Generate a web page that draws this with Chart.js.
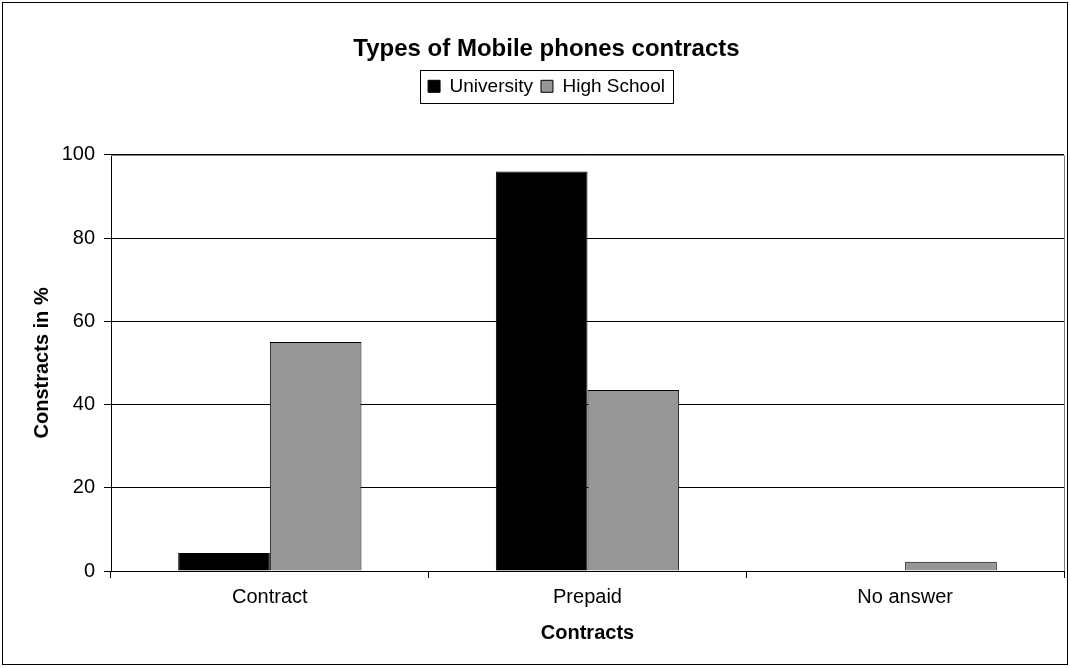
<!DOCTYPE html>
<html>
<head>
<meta charset="utf-8">
<script src="https://cdn.jsdelivr.net/npm/chart.js@4"></script>
<style>
  html, body { margin: 0; padding: 0; background: #fff; }
  #wrap { width: 1070px; height: 668px; }
</style>
</head>
<body>
<div id="wrap"><canvas id="chart" width="1070" height="668"></canvas></div>
<script>
const categories = ['Contract', 'Prepaid', 'No answer'];
const university = [4.3, 96, 0];
const highSchool = [55, 43.5, 2.2];
const yTicks = [0, 20, 40, 60, 80, 100];

const FONT = 'Liberation Sans, Arial, sans-serif';
const LEGEND_EXTRA = 49;

// outer frame, legend box and grey plot border
const framePlugin = {
  id: 'frame',
  beforeLayout(chart) {
    const lg = chart.legend;
    if (lg && !lg._patched) {
      const orig = lg.fit.bind(lg);
      lg.fit = function () { orig(); this.height += LEGEND_EXTRA; };
      lg._patched = true;
    }
  },
  afterDraw(chart) {
    const ctx = chart.ctx;
    ctx.save();
    ctx.strokeStyle = '#000';
    ctx.lineWidth = 1;
    ctx.strokeRect(2.5, 2.5, 1065, 662);

    const boxes = chart.legend.legendHitBoxes;
    const l = Math.min(...boxes.map((b) => b.left)) - 8;
    const r = Math.max(...boxes.map((b) => b.left + b.width)) + 8;
    const t = boxes[0].top - 7;
    const b = boxes[0].top + boxes[0].height + 7;
    ctx.strokeRect(Math.round(l) + 0.5, Math.round(t) + 0.5, Math.round(r - l), Math.round(b - t));

    const a = chart.chartArea;
    ctx.strokeStyle = '#808080';
    ctx.beginPath();
    ctx.moveTo(a.left, Math.round(a.top) + 0.5);
    ctx.lineTo(Math.round(a.right) + 0.5, Math.round(a.top) + 0.5);
    ctx.lineTo(Math.round(a.right) + 0.5, a.bottom);
    ctx.stroke();
    ctx.restore();
  }
};

new Chart(document.getElementById('chart').getContext('2d'), {
  type: 'bar',
  data: {
    labels: categories,
    datasets: [
      {
        label: 'University',
        data: university,
        backgroundColor: '#000000',
        borderColor: '#000000',
        borderWidth: 1,
        borderSkipped: 'bottom',
      },
      {
        label: 'High School',
        data: highSchool,
        backgroundColor: '#969696',
        borderColor: '#000000',
        borderWidth: 1,
        borderSkipped: 'bottom',
      },
    ],
  },
  options: {
    responsive: false,
    animation: false,
    layout: { padding: { left: 29, right: 6, top: 0, bottom: 10 } },
    datasets: { bar: { categoryPercentage: 0.577, barPercentage: 1 } },
    plugins: {
      title: {
        display: true,
        text: 'Types of Mobile phones contracts',
        color: '#000',
        font: { family: FONT, size: 24, weight: 'bold' },
        padding: { top: 35, bottom: 5 },
      },
      legend: {
        display: true,
        position: 'top',
        labels: {
          color: '#000',
          font: { family: FONT, size: 19 },
          boxWidth: 12,
          boxHeight: 12,
          padding: 8,
          generateLabels(chart) {
            return chart.data.datasets.map((ds, i) => ({
              text: ds.label,
              fillStyle: ds.backgroundColor,
              strokeStyle: '#000',
              lineWidth: 1,
              datasetIndex: i,
            }));
          },
        },
      },
      tooltip: { enabled: false },
    },
    scales: {
      x: {
        grid: {
          display: true,
          drawOnChartArea: false,
          drawTicks: true,
          tickLength: 7,
          color: '#000',
        },
        border: { display: true, color: '#000', width: 1 },
        ticks: { color: '#000', font: { family: FONT, size: 20 }, padding: 7 },
        title: {
          display: true,
          text: 'Contracts',
          color: '#000',
          font: { family: FONT, size: 20, weight: 'bold' },
          padding: { top: 10, bottom: 13 },
        },
        afterFit(scale) { scale.height = 87; },
      },
      y: {
        min: 0,
        max: 100,
        afterBuildTicks(scale) { scale.ticks = yTicks.map((v) => ({ value: v })); },
        grid: { color: '#000', tickLength: 7, drawTicks: true },
        border: { display: true, color: '#000', width: 1 },
        ticks: { color: '#000', font: { family: FONT, size: 20 }, padding: 9 },
        title: {
          display: true,
          text: 'Constracts in %',
          color: '#000',
          font: { family: FONT, size: 20, weight: 'bold' },
          padding: { top: 1, bottom: 8 },
        },
        afterFit(scale) { scale.width = 82; },
      },
    },
  },
  plugins: [framePlugin],
});
</script>
</body>
</html>
